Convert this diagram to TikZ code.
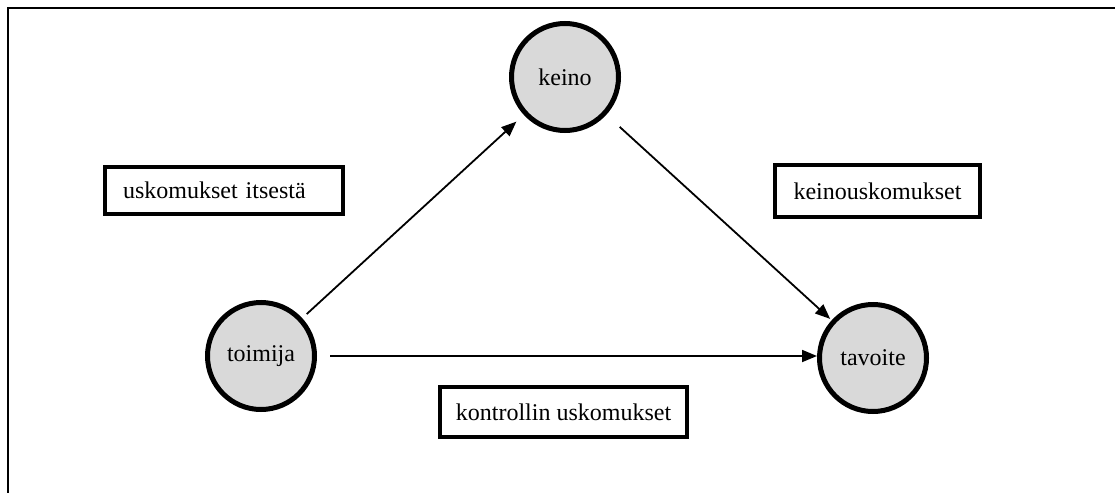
\documentclass[tikz,border=0pt]{standalone}
\usepackage{fontspec}
\setmainfont{Liberation Serif}
\usetikzlibrary{arrows.meta}
\definecolor{nodegray}{HTML}{D9D9D9}
\begin{document}
\begin{tikzpicture}[x=1pt,y=-1pt,
  every node/.style={font=\fontsize{24}{28}\selectfont},
  actor/.style={circle,draw=black,fill=nodegray,line width=5pt,minimum size=107pt,inner sep=0pt},
  beliefbox/.style={draw=black,line width=3.6pt,inner sep=0pt},
  arr/.style={line width=1.8pt,-{Triangle[length=15pt,width=12pt]}}]
\useasboundingbox (0,0) rectangle (1115,492);
\begin{scope}
\clip (0,0) rectangle (1115,492);
\draw[line width=2.2pt] (8,520) -- (8,8) -- (1130,8);
\end{scope}
\node[actor] (keino) at (565,77) {keino};
\node[actor] (toimija) at (261,356) {toimija};
\node[actor] (tavoite) at (873,358) {tavoite};
\node[beliefbox,minimum width=238pt,minimum height=47pt,text width=202pt,align=left] (itse) at (224,190.5) {uskomukset itsestä};
\node[beliefbox,minimum width=247pt,minimum height=50pt] (kontrolli) at (563.5,412) {kontrollin uskomukset};
\node[beliefbox,minimum width=205pt,minimum height=52pt] (keinous) at (877.5,191) {keinouskomukset};
\draw[arr,shorten <=6pt,shorten >=10pt] (toimija) -- (keino);
\draw[arr,shorten <=18pt,shorten >=2pt] (keino) -- (tavoite);
\draw[arr,shorten <=13pt,shorten >=56pt] (toimija) -- (toimija -| tavoite);
\end{tikzpicture}
\end{document}
